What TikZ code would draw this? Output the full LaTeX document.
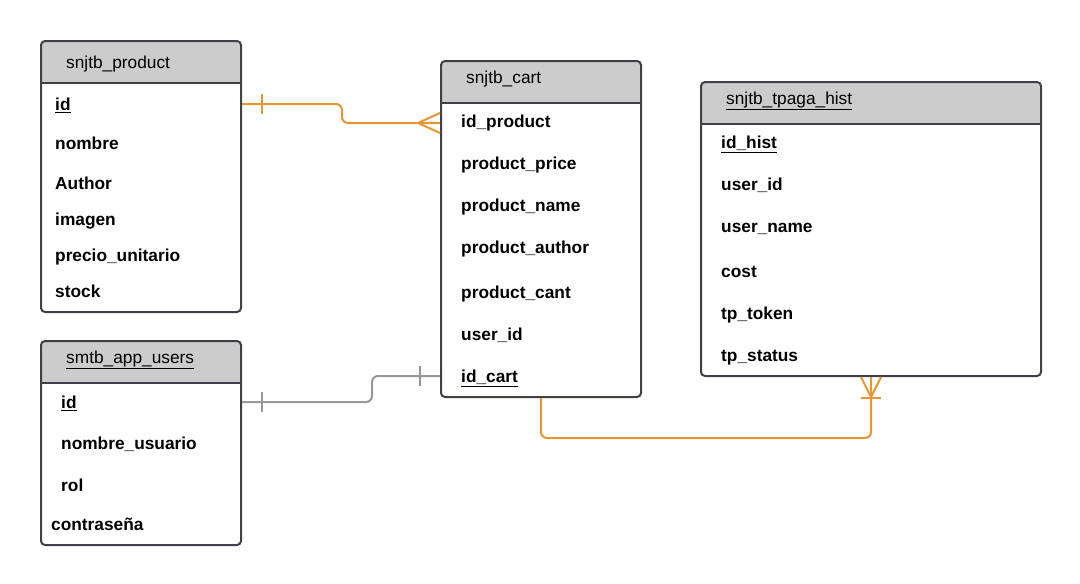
\documentclass[tikz,border=0pt]{standalone}
\usepackage{fontspec}
\setmainfont{Liberation Sans}
\usepackage{tikz}
\usetikzlibrary{positioning,calc}
\definecolor{boxgray}{RGB}{62,66,72}
\definecolor{headgray}{RGB}{204,204,204}
\definecolor{relorange}{RGB}{232,149,52}
\definecolor{relgray}{RGB}{152,152,152}
\tikzstyle{line} = [draw,line width=2pt]

\begin{document}
\begin{tikzpicture}[x=1pt,y=-1pt]
            \tikzstyle{tablebox} = [draw=boxgray, line width=2pt, rounded corners=4pt, anchor=north west, inner sep=0pt,
              path picture={\fill[headgray] (path picture bounding box.north west) rectangle ([yshift=-42pt]path picture bounding box.north east);
                \draw[boxgray, line width=2pt] ([yshift=-42pt]path picture bounding box.north west) -- ([yshift=-42pt]path picture bounding box.north east);}]
            \tikzstyle{tabletitle} = [anchor=west, inner sep=0pt, text height=12.4pt, text depth=0pt, font=\fontsize{17.3}{20}\selectfont]
            \tikzstyle{field} = [tabletitle, font=\fontsize{17.3}{20}\selectfont\bfseries]
          \useasboundingbox (0,0) rectangle (1080,584);
          % tables
          \node[tablebox, minimum width=200pt, minimum height=271pt] (product) at (40,40) {};
          \node[tablebox, minimum width=200pt, minimum height=204pt] (users) at (40,340) {};
          \node[tablebox, minimum width=200pt, minimum height=336pt] (cart) at (440,60) {};
          \node[tablebox, minimum width=340pt, minimum height=294pt] (tpaga) at (700,81) {};
          % snjtb_product
          \node[tabletitle] (prodtitle) at (66,62) {snjtb\_product};
          \node[field] (prodidattr) at (55,104) {\underline{id}};
          \node[field] (prodnombreattr) at (55,143) {nombre};
          \node[field] (prodauthorattr) at (55,183) {Author};
          \node[field] (prodimagenattr) at (55,219) {imagen};
          \node[field] (prodprecioattr) at (55,255) {precio\_unitario};
          \node[field] (prodstockattr) at (55,291) {stock};
          % smtb_app_users
          \node[tabletitle] (usrtitle) at (66,357) {\underline{smtb\_app\_users}};
          \node[field] (usridattr) at (61,402) {\underline{id}};
          \node[field] (usrnombreattr) at (61,443) {nombre\_usuario};
          \node[field] (usrrolattr) at (61,485) {rol};
          \node[field] (usrpassattr) at (51,524) {contraseña};
          % snjtb_cart
          \node[tabletitle] (carttitle) at (466,77) {snjtb\_cart};
          \node[field] (cartprodattr) at (461,121) {id\_product};
          \node[field] (cartpriceattr) at (461,163) {product\_price};
          \node[field] (cartnameattr) at (461,205) {product\_name};
          \node[field] (cartauthorattr) at (461,247) {product\_author};
          \node[field] (cartcantattr) at (461,292) {product\_cant};
          \node[field] (cartuserattr) at (461,334) {user\_id};
          \node[field] (cartidattr) at (461,376) {\underline{id\_cart}};
          % snjtb_tpaga_hist
          \node[tabletitle] (tpagatitle) at (726,98) {\underline{snjtb\_tpaga\_hist}};
          \node[field] (tpagaidattr) at (721,142) {\underline{id\_hist}};
          \node[field] (tpagauserattr) at (721,184) {user\_id};
          \node[field] (tpaganameattr) at (721,226) {user\_name};
          \node[field] (tpagacostattr) at (721,271) {cost};
          \node[field] (tpagatokenattr) at (721,313) {tp\_token};
          \node[field] (tpagastatusattr) at (721,355) {tp\_status};
          % relations
          \path [line, relorange, rounded corners=6pt] (product.east |- prodidattr) -- ++(100,0) |- ($(cart.west |- cartprodattr)+(0,2)$);
          \path [line, relorange] ($(product.east |- prodidattr)+(20,-10)$) -- ++(0,20);
          \path [line, relorange] ($(cart.west |- cartprodattr)+(0,-8)$) -- ++(-22,10) -- ++(22,10);
          \path [line, relgray, rounded corners=6pt] (users.east |- usridattr) -- ++(130,0) |- (cart.west |- cartidattr);
          \path [line, relgray] ($(users.east |- usridattr)+(20,-10)$) -- ++(0,20);
          \path [line, relgray] ($(cart.west |- cartidattr)+(-20,-10)$) -- ++(0,20);
          \path [line, relorange, rounded corners=6pt] (cart.south) -- ++(0,40) -| (tpaga.south);
          \path [line, relorange] ($(tpaga.south)+(-10,0)$) -- ++(10,20) -- ++(10,-20);
          \path [line, relorange] ($(tpaga.south)+(-10,21)$) -- ++(20,0);
        \end{tikzpicture}
\end{document}
